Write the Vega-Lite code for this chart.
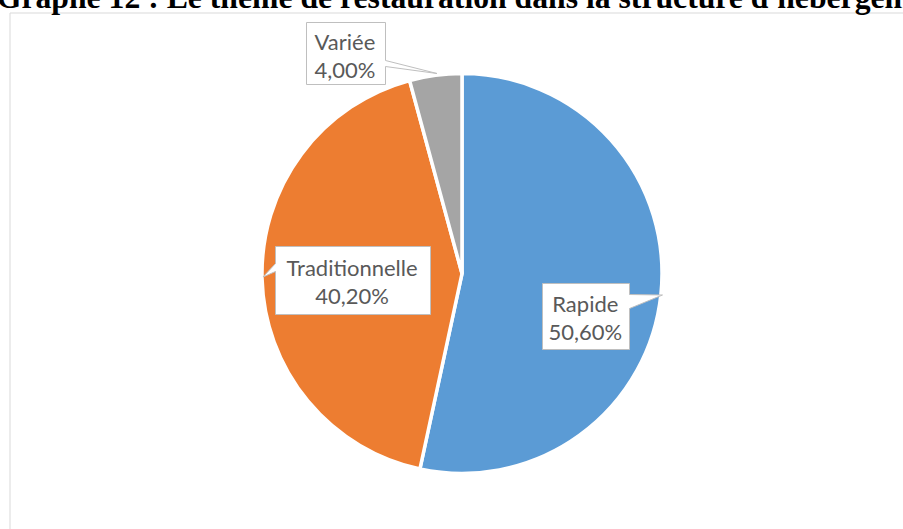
{
  "$schema": "https://vega.github.io/schema/vega-lite/v6.json",
  "autosize": {"type": "none"},
  "padding": {"left": 9.5, "top": 12.5, "right": -11.5, "bottom": -5.5},
  "width": 905,
  "height": 522,
  "background": "white",
  "view": {"stroke": "#D9D9D9", "strokeWidth": 1, "fill": "white"},
  "title": {
    "text": "Graphe 12 : Le thème de restauration dans la structure d'hébergement",
    "font": "Liberation Serif",
    "fontSize": 31.7,
    "fontWeight": "bold",
    "color": "#000000",
    "anchor": "middle",
    "frame": "group",
    "baseline": "alphabetic",
    "offset": 6,
    "dy": 33,
    "dx": 13
  },
  "data": {
    "values": [
      {"category": "Rapide", "value": 50.6, "label": "Rapide\n50,60%"},
      {"category": "Traditionnelle", "value": 40.2, "label": "Traditionnelle\n40,20%"},
      {"category": "Variée", "value": 4.0, "label": "Variée\n4,00%"}
    ]
  },
  "layer": [
    {
      "mark": {"type": "arc", "outerRadius": 200, "stroke": "white", "strokeWidth": 3.5},
      "encoding": {
        "theta": {"field": "value", "type": "quantitative", "stack": true},
        "color": {
          "field": "category",
          "type": "nominal",
          "scale": {"domain": ["Rapide", "Traditionnelle", "Variée"], "range": ["#5B9BD5", "#ED7D31", "#A5A5A5"]},
          "legend": null
        }
      }
    },
    {
      "mark": {"type": "point", "filled": true, "fill": "white", "stroke": "#BFBFBF", "strokeWidth": 1, "opacity": 1, "size": 4},
      "encoding": {
        "shape": {
          "field": "category",
          "type": "nominal",
          "scale": {
            "domain": ["Rapide", "Traditionnelle", "Variée"],
            "range": [
              "M80.5,10H167.5V21L200.5,21.5L167.5,35V76H80.5Z",
              "M-186.5,-27H-31.5V41H-186.5V-2L-199,3.5L-186.5,-10Z",
              "M-155.5,-251H-76.5V-213L-25,-200L-76.5,-207V-189H-155.5Z"
            ]
          },
          "legend": null
        }
      }
    },
    {
      "mark": {"type": "text", "radius": 124, "dx": 0, "dy": 18, "font": "Lato", "fontSize": 22, "color": "#595959", "lineBreak": "\n", "lineHeight": 28, "align": "center", "baseline": "middle"},
      "encoding": {
        "theta": {"field": "value", "type": "quantitative", "stack": true},
        "detail": {"field": "category", "type": "nominal"},
        "text": {"condition": {"test": "datum.category === 'Rapide'", "field": "label"}, "value": ""}
      }
    },
    {
      "mark": {"type": "text", "radius": 110, "dx": 0, "dy": -7, "font": "Lato", "fontSize": 22, "color": "#595959", "lineBreak": "\n", "lineHeight": 28, "align": "center", "baseline": "middle"},
      "encoding": {
        "theta": {"field": "value", "type": "quantitative", "stack": true},
        "detail": {"field": "category", "type": "nominal"},
        "text": {"condition": {"test": "datum.category === 'Traditionnelle'", "field": "label"}, "value": ""}
      }
    },
    {
      "mark": {"type": "text", "radius": 220, "dx": -88, "dy": -12, "font": "Lato", "fontSize": 22, "color": "#595959", "lineBreak": "\n", "lineHeight": 28, "align": "center", "baseline": "middle"},
      "encoding": {
        "theta": {"field": "value", "type": "quantitative", "stack": true},
        "detail": {"field": "category", "type": "nominal"},
        "text": {"condition": {"test": "datum.category === 'Variée'", "field": "label"}, "value": ""}
      }
    }
  ]
}
